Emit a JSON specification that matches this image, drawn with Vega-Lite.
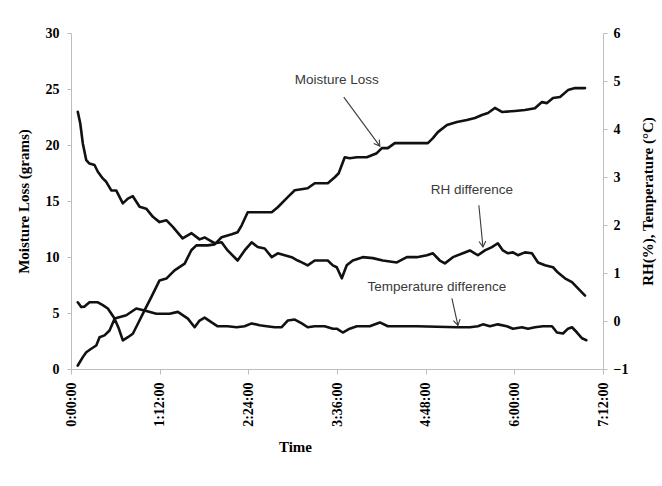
{
  "$schema": "https://vega.github.io/schema/vega-lite/v6.json",
  "width": 532,
  "height": 336,
  "autosize": "none",
  "padding": {"left": 71, "top": 33, "right": 59, "bottom": 117},
  "background": "white",
  "config": {
    "view": {"stroke": null},
    "axis": {
      "grid": false,
      "domainColor": "#bdbdbd",
      "tickColor": "#bdbdbd",
      "domainWidth": 1,
      "tickSize": 4,
      "labelFont": "Liberation Serif",
      "labelFontWeight": "bold",
      "labelFontSize": 14,
      "labelColor": "#000000",
      "titleFont": "Liberation Serif",
      "titleFontWeight": "bold",
      "titleFontSize": 15,
      "titleColor": "#000000"
    }
  },
  "datasets": {
    "lines": [
      {"series": "Moisture Loss", "minutes": 5.5, "value": 0.31},
      {"series": "Moisture Loss", "minutes": 9.6, "value": 1.06},
      {"series": "Moisture Loss", "minutes": 12.4, "value": 1.5},
      {"series": "Moisture Loss", "minutes": 16.4, "value": 1.81},
      {"series": "Moisture Loss", "minutes": 20.5, "value": 2.1},
      {"series": "Moisture Loss", "minutes": 23.2, "value": 2.84},
      {"series": "Moisture Loss", "minutes": 27.2, "value": 3.0},
      {"series": "Moisture Loss", "minutes": 31.3, "value": 3.44},
      {"series": "Moisture Loss", "minutes": 35.4, "value": 4.49},
      {"series": "Moisture Loss", "minutes": 38.9, "value": 3.59},
      {"series": "Moisture Loss", "minutes": 42.1, "value": 2.55},
      {"series": "Moisture Loss", "minutes": 46.2, "value": 2.84},
      {"series": "Moisture Loss", "minutes": 50.2, "value": 3.15},
      {"series": "Moisture Loss", "minutes": 54.3, "value": 4.04},
      {"series": "Moisture Loss", "minutes": 59.7, "value": 5.23},
      {"series": "Moisture Loss", "minutes": 65.2, "value": 6.42},
      {"series": "Moisture Loss", "minutes": 71.9, "value": 7.91},
      {"series": "Moisture Loss", "minutes": 77.4, "value": 8.07},
      {"series": "Moisture Loss", "minutes": 84.1, "value": 8.81},
      {"series": "Moisture Loss", "minutes": 92.3, "value": 9.41},
      {"series": "Moisture Loss", "minutes": 97.7, "value": 10.6},
      {"series": "Moisture Loss", "minutes": 101.8, "value": 11.04},
      {"series": "Moisture Loss", "minutes": 110.9, "value": 11.04},
      {"series": "Moisture Loss", "minutes": 116.6, "value": 11.13},
      {"series": "Moisture Loss", "minutes": 122.3, "value": 11.76},
      {"series": "Moisture Loss", "minutes": 130.5, "value": 12.03},
      {"series": "Moisture Loss", "minutes": 135.3, "value": 12.21},
      {"series": "Moisture Loss", "minutes": 138.6, "value": 12.83},
      {"series": "Moisture Loss", "minutes": 143.5, "value": 13.99},
      {"series": "Moisture Loss", "minutes": 163.0, "value": 13.99},
      {"series": "Moisture Loss", "minutes": 167.9, "value": 14.44},
      {"series": "Moisture Loss", "minutes": 176.0, "value": 15.34},
      {"series": "Moisture Loss", "minutes": 181.7, "value": 15.96},
      {"series": "Moisture Loss", "minutes": 192.2, "value": 16.14},
      {"series": "Moisture Loss", "minutes": 197.9, "value": 16.59},
      {"series": "Moisture Loss", "minutes": 208.5, "value": 16.59},
      {"series": "Moisture Loss", "minutes": 214.2, "value": 17.12},
      {"series": "Moisture Loss", "minutes": 217.4, "value": 17.48},
      {"series": "Moisture Loss", "minutes": 222.3, "value": 18.91},
      {"series": "Moisture Loss", "minutes": 226.3, "value": 18.82},
      {"series": "Moisture Loss", "minutes": 232.1, "value": 18.91},
      {"series": "Moisture Loss", "minutes": 240.2, "value": 18.91},
      {"series": "Moisture Loss", "minutes": 248.3, "value": 19.27},
      {"series": "Moisture Loss", "minutes": 252.4, "value": 19.72},
      {"series": "Moisture Loss", "minutes": 257.3, "value": 19.72},
      {"series": "Moisture Loss", "minutes": 262.9, "value": 20.17},
      {"series": "Moisture Loss", "minutes": 272.7, "value": 20.17},
      {"series": "Moisture Loss", "minutes": 289.8, "value": 20.17},
      {"series": "Moisture Loss", "minutes": 293.9, "value": 20.61},
      {"series": "Moisture Loss", "minutes": 297.9, "value": 21.15},
      {"series": "Moisture Loss", "minutes": 305.3, "value": 21.78},
      {"series": "Moisture Loss", "minutes": 313.4, "value": 22.05},
      {"series": "Moisture Loss", "minutes": 321.5, "value": 22.23},
      {"series": "Moisture Loss", "minutes": 328.0, "value": 22.41},
      {"series": "Moisture Loss", "minutes": 333.7, "value": 22.68},
      {"series": "Moisture Loss", "minutes": 338.6, "value": 22.86},
      {"series": "Moisture Loss", "minutes": 344.2, "value": 23.31},
      {"series": "Moisture Loss", "minutes": 349.9, "value": 22.95},
      {"series": "Moisture Loss", "minutes": 360.5, "value": 23.04},
      {"series": "Moisture Loss", "minutes": 368.6, "value": 23.12},
      {"series": "Moisture Loss", "minutes": 376.7, "value": 23.29},
      {"series": "Moisture Loss", "minutes": 382.4, "value": 23.83},
      {"series": "Moisture Loss", "minutes": 386.5, "value": 23.74},
      {"series": "Moisture Loss", "minutes": 391.4, "value": 24.19},
      {"series": "Moisture Loss", "minutes": 397.1, "value": 24.28},
      {"series": "Moisture Loss", "minutes": 403.6, "value": 24.9},
      {"series": "Moisture Loss", "minutes": 409.3, "value": 25.08},
      {"series": "Moisture Loss", "minutes": 417.4, "value": 25.08},

      {"series": "RH difference", "minutes": 5.5, "value": 4.36},
      {"series": "RH difference", "minutes": 7.5, "value": 4.12},
      {"series": "RH difference", "minutes": 9.6, "value": 3.7},
      {"series": "RH difference", "minutes": 12.4, "value": 3.35},
      {"series": "RH difference", "minutes": 15.0, "value": 3.28},
      {"series": "RH difference", "minutes": 19.1, "value": 3.25},
      {"series": "RH difference", "minutes": 21.8, "value": 3.11},
      {"series": "RH difference", "minutes": 25.8, "value": 2.97},
      {"series": "RH difference", "minutes": 28.6, "value": 2.9},
      {"series": "RH difference", "minutes": 32.7, "value": 2.72},
      {"series": "RH difference", "minutes": 36.7, "value": 2.72},
      {"series": "RH difference", "minutes": 42.1, "value": 2.45},
      {"series": "RH difference", "minutes": 46.2, "value": 2.55},
      {"series": "RH difference", "minutes": 50.2, "value": 2.6},
      {"series": "RH difference", "minutes": 55.7, "value": 2.38},
      {"series": "RH difference", "minutes": 61.1, "value": 2.34},
      {"series": "RH difference", "minutes": 66.5, "value": 2.17},
      {"series": "RH difference", "minutes": 71.9, "value": 2.06},
      {"series": "RH difference", "minutes": 77.4, "value": 2.1},
      {"series": "RH difference", "minutes": 82.7, "value": 1.96},
      {"series": "RH difference", "minutes": 90.6, "value": 1.72},
      {"series": "RH difference", "minutes": 97.9, "value": 1.83},
      {"series": "RH difference", "minutes": 104.4, "value": 1.7},
      {"series": "RH difference", "minutes": 108.5, "value": 1.74},
      {"series": "RH difference", "minutes": 112.6, "value": 1.68},
      {"series": "RH difference", "minutes": 116.6, "value": 1.62},
      {"series": "RH difference", "minutes": 122.3, "value": 1.64},
      {"series": "RH difference", "minutes": 127.2, "value": 1.47},
      {"series": "RH difference", "minutes": 135.3, "value": 1.26},
      {"series": "RH difference", "minutes": 141.0, "value": 1.47},
      {"series": "RH difference", "minutes": 146.7, "value": 1.64},
      {"series": "RH difference", "minutes": 151.6, "value": 1.54},
      {"series": "RH difference", "minutes": 157.3, "value": 1.51},
      {"series": "RH difference", "minutes": 163.0, "value": 1.33},
      {"series": "RH difference", "minutes": 167.9, "value": 1.41},
      {"series": "RH difference", "minutes": 173.5, "value": 1.37},
      {"series": "RH difference", "minutes": 179.2, "value": 1.33},
      {"series": "RH difference", "minutes": 184.1, "value": 1.26},
      {"series": "RH difference", "minutes": 187.4, "value": 1.22},
      {"series": "RH difference", "minutes": 192.2, "value": 1.16},
      {"series": "RH difference", "minutes": 197.9, "value": 1.26},
      {"series": "RH difference", "minutes": 208.5, "value": 1.26},
      {"series": "RH difference", "minutes": 212.6, "value": 1.16},
      {"series": "RH difference", "minutes": 215.8, "value": 1.12},
      {"series": "RH difference", "minutes": 219.9, "value": 0.89},
      {"series": "RH difference", "minutes": 223.9, "value": 1.16},
      {"series": "RH difference", "minutes": 228.8, "value": 1.26},
      {"series": "RH difference", "minutes": 236.9, "value": 1.33},
      {"series": "RH difference", "minutes": 245.1, "value": 1.31},
      {"series": "RH difference", "minutes": 253.2, "value": 1.26},
      {"series": "RH difference", "minutes": 264.6, "value": 1.22},
      {"series": "RH difference", "minutes": 272.7, "value": 1.33},
      {"series": "RH difference", "minutes": 280.8, "value": 1.33},
      {"series": "RH difference", "minutes": 289.0, "value": 1.37},
      {"series": "RH difference", "minutes": 293.9, "value": 1.41},
      {"series": "RH difference", "minutes": 299.5, "value": 1.26},
      {"series": "RH difference", "minutes": 303.6, "value": 1.2},
      {"series": "RH difference", "minutes": 310.1, "value": 1.33},
      {"series": "RH difference", "minutes": 318.2, "value": 1.41},
      {"series": "RH difference", "minutes": 323.9, "value": 1.47},
      {"series": "RH difference", "minutes": 330.4, "value": 1.37},
      {"series": "RH difference", "minutes": 336.1, "value": 1.47},
      {"series": "RH difference", "minutes": 341.8, "value": 1.54},
      {"series": "RH difference", "minutes": 346.6, "value": 1.62},
      {"series": "RH difference", "minutes": 350.7, "value": 1.47},
      {"series": "RH difference", "minutes": 354.8, "value": 1.41},
      {"series": "RH difference", "minutes": 358.9, "value": 1.43},
      {"series": "RH difference", "minutes": 362.9, "value": 1.37},
      {"series": "RH difference", "minutes": 368.6, "value": 1.43},
      {"series": "RH difference", "minutes": 374.3, "value": 1.41},
      {"series": "RH difference", "minutes": 379.2, "value": 1.22},
      {"series": "RH difference", "minutes": 384.9, "value": 1.16},
      {"series": "RH difference", "minutes": 391.4, "value": 1.12},
      {"series": "RH difference", "minutes": 395.4, "value": 1.01},
      {"series": "RH difference", "minutes": 401.1, "value": 0.89},
      {"series": "RH difference", "minutes": 406.8, "value": 0.81},
      {"series": "RH difference", "minutes": 411.7, "value": 0.68},
      {"series": "RH difference", "minutes": 417.4, "value": 0.53},

      {"series": "Temperature difference", "minutes": 5.5, "value": 0.39},
      {"series": "Temperature difference", "minutes": 8.3, "value": 0.29},
      {"series": "Temperature difference", "minutes": 11.0, "value": 0.3},
      {"series": "Temperature difference", "minutes": 15.0, "value": 0.39},
      {"series": "Temperature difference", "minutes": 21.8, "value": 0.39},
      {"series": "Temperature difference", "minutes": 25.8, "value": 0.33},
      {"series": "Temperature difference", "minutes": 29.9, "value": 0.26},
      {"series": "Temperature difference", "minutes": 35.4, "value": 0.05},
      {"series": "Temperature difference", "minutes": 44.9, "value": 0.12},
      {"series": "Temperature difference", "minutes": 53.0, "value": 0.26},
      {"series": "Temperature difference", "minutes": 59.7, "value": 0.22},
      {"series": "Temperature difference", "minutes": 69.3, "value": 0.15},
      {"series": "Temperature difference", "minutes": 74.6, "value": 0.15},
      {"series": "Temperature difference", "minutes": 80.1, "value": 0.15},
      {"series": "Temperature difference", "minutes": 86.8, "value": 0.19},
      {"series": "Temperature difference", "minutes": 94.9, "value": 0.05},
      {"series": "Temperature difference", "minutes": 100.4, "value": -0.13},
      {"series": "Temperature difference", "minutes": 104.4, "value": 0.01},
      {"series": "Temperature difference", "minutes": 108.5, "value": 0.07},
      {"series": "Temperature difference", "minutes": 114.2, "value": -0.03},
      {"series": "Temperature difference", "minutes": 119.1, "value": -0.11},
      {"series": "Temperature difference", "minutes": 127.2, "value": -0.11},
      {"series": "Temperature difference", "minutes": 134.5, "value": -0.13},
      {"series": "Temperature difference", "minutes": 141.0, "value": -0.11},
      {"series": "Temperature difference", "minutes": 146.7, "value": -0.05},
      {"series": "Temperature difference", "minutes": 153.2, "value": -0.09},
      {"series": "Temperature difference", "minutes": 158.9, "value": -0.11},
      {"series": "Temperature difference", "minutes": 165.4, "value": -0.13},
      {"series": "Temperature difference", "minutes": 171.1, "value": -0.13},
      {"series": "Temperature difference", "minutes": 176.0, "value": 0.01},
      {"series": "Temperature difference", "minutes": 181.7, "value": 0.03},
      {"series": "Temperature difference", "minutes": 187.4, "value": -0.05},
      {"series": "Temperature difference", "minutes": 192.2, "value": -0.13},
      {"series": "Temperature difference", "minutes": 197.9, "value": -0.11},
      {"series": "Temperature difference", "minutes": 206.0, "value": -0.11},
      {"series": "Temperature difference", "minutes": 212.6, "value": -0.16},
      {"series": "Temperature difference", "minutes": 215.8, "value": -0.16},
      {"series": "Temperature difference", "minutes": 220.7, "value": -0.24},
      {"series": "Temperature difference", "minutes": 226.3, "value": -0.16},
      {"series": "Temperature difference", "minutes": 232.1, "value": -0.11},
      {"series": "Temperature difference", "minutes": 242.6, "value": -0.11},
      {"series": "Temperature difference", "minutes": 250.8, "value": -0.03},
      {"series": "Temperature difference", "minutes": 257.3, "value": -0.11},
      {"series": "Temperature difference", "minutes": 280.8, "value": -0.11},
      {"series": "Temperature difference", "minutes": 313.4, "value": -0.13},
      {"series": "Temperature difference", "minutes": 323.9, "value": -0.13},
      {"series": "Temperature difference", "minutes": 330.4, "value": -0.11},
      {"series": "Temperature difference", "minutes": 334.5, "value": -0.07},
      {"series": "Temperature difference", "minutes": 340.2, "value": -0.11},
      {"series": "Temperature difference", "minutes": 346.6, "value": -0.07},
      {"series": "Temperature difference", "minutes": 353.9, "value": -0.11},
      {"series": "Temperature difference", "minutes": 358.9, "value": -0.16},
      {"series": "Temperature difference", "minutes": 366.2, "value": -0.13},
      {"series": "Temperature difference", "minutes": 371.1, "value": -0.16},
      {"series": "Temperature difference", "minutes": 376.7, "value": -0.13},
      {"series": "Temperature difference", "minutes": 383.2, "value": -0.11},
      {"series": "Temperature difference", "minutes": 390.6, "value": -0.11},
      {"series": "Temperature difference", "minutes": 394.6, "value": -0.24},
      {"series": "Temperature difference", "minutes": 399.5, "value": -0.26},
      {"series": "Temperature difference", "minutes": 403.6, "value": -0.16},
      {"series": "Temperature difference", "minutes": 406.8, "value": -0.13},
      {"series": "Temperature difference", "minutes": 410.9, "value": -0.24},
      {"series": "Temperature difference", "minutes": 415.0, "value": -0.36},
      {"series": "Temperature difference", "minutes": 418.5, "value": -0.4}
    ],
    "notes": [
      {"label": "Moisture Loss", "minutes": 215.8, "value": 25.8, "minutes2": 221.5, "value2": 24.28, "tipMinutes": 250.8, "tipValue": 19.9},
      {"label": "RH difference", "minutes": 325.5, "value": 15.96, "minutes2": 331.2, "value2": 14.62, "tipMinutes": 334.5, "tipValue": 10.9},
      {"label": "Temperature difference", "minutes": 297.1, "value": 7.29, "minutes2": 309.3, "value2": 6.3, "tipMinutes": 314.2, "tipValue": 3.89}
    ]
  },
  "encoding": {
    "x": {
      "field": "minutes",
      "type": "quantitative",
      "scale": {"domain": [0, 432], "nice": false, "zero": false},
      "axis": {
        "title": "Time",
        "values": [0, 72, 144, 216, 288, 360, 432],
        "labelExpr": "floor(datum.value / 60) + ':' + (datum.value % 60 < 10 ? '0' : '') + (datum.value % 60) + ':00'",
        "labelAngle": 270,
        "labelPadding": 8,
        "tickSize": 5,
        "titleX": 224,
        "titleY": 77,
        "titleBaseline": "middle",
        "titleAlign": "center"
      }
    }
  },
  "layer": [
    {
      "encoding": {
        "y": {
          "field": "value",
          "type": "quantitative",
          "scale": {"domain": [0, 30], "nice": false},
          "axis": {
            "orient": "left",
            "title": "Moisture Loss (grams)",
            "values": [0, 5, 10, 15, 20, 25, 30],
            "labelPadding": 8,
            "titleAngle": 270,
            "titleX": -48,
            "titleY": 168,
            "titleBaseline": "middle",
            "titleAlign": "center"
          }
        }
      },
      "layer": [
        {
          "data": {"name": "lines"},
          "transform": [{"filter": "datum.series === 'Moisture Loss'"}],
          "mark": {"type": "line", "color": "#111111", "strokeWidth": 2.6, "strokeJoin": "round", "strokeCap": "round"}
        },
        {
          "data": {"name": "notes"},
          "mark": {"type": "text", "font": "Liberation Sans", "fontSize": 13.5, "color": "#3a3a3a", "align": "center", "baseline": "middle"},
          "encoding": {"text": {"field": "label"}}
        },
        {
          "data": {"name": "notes"},
          "mark": {"type": "rule", "color": "#3a3a3a", "strokeWidth": 1.1},
          "encoding": {
            "x": {"field": "minutes2", "type": "quantitative"},
            "y": {"field": "value2", "type": "quantitative"},
            "x2": {"field": "tipMinutes"},
            "y2": {"field": "tipValue"}
          }
        },
        {
          "data": {"name": "notes"},
          "transform": [{"filter": "datum.label === 'Moisture Loss'"}],
          "mark": {"type": "point", "shape": "M-1,-0.6L0,0L-1,0.6", "filled": false, "color": "#3a3a3a", "opacity": 1, "strokeWidth": 1.1, "size": 130, "angle": 54},
          "encoding": {
            "x": {"field": "tipMinutes", "type": "quantitative"},
            "y": {"field": "tipValue", "type": "quantitative"}
          }
        },
        {
          "data": {"name": "notes"},
          "transform": [{"filter": "datum.label === 'RH difference'"}],
          "mark": {"type": "point", "shape": "M-1,-0.6L0,0L-1,0.6", "filled": false, "color": "#3a3a3a", "opacity": 1, "strokeWidth": 1.1, "size": 130, "angle": 85},
          "encoding": {
            "x": {"field": "tipMinutes", "type": "quantitative"},
            "y": {"field": "tipValue", "type": "quantitative"}
          }
        },
        {
          "data": {"name": "notes"},
          "transform": [{"filter": "datum.label === 'Temperature difference'"}],
          "mark": {"type": "point", "shape": "M-1,-0.6L0,0L-1,0.6", "filled": false, "color": "#3a3a3a", "opacity": 1, "strokeWidth": 1.1, "size": 130, "angle": 78},
          "encoding": {
            "x": {"field": "tipMinutes", "type": "quantitative"},
            "y": {"field": "tipValue", "type": "quantitative"}
          }
        }
      ]
    },
    {
      "data": {"name": "lines"},
      "transform": [{"filter": "datum.series !== 'Moisture Loss'"}],
      "mark": {"type": "line", "color": "#111111", "strokeWidth": 2.6, "strokeJoin": "round", "strokeCap": "round"},
      "encoding": {
        "detail": {"field": "series"},
        "y": {
          "field": "value",
          "type": "quantitative",
          "scale": {"domain": [-1, 6], "nice": false, "zero": false},
          "axis": {
            "orient": "right",
            "title": "RH(%), Temperature (°C)",
            "values": [-1, 0, 1, 2, 3, 4, 5, 6],
            "labelPadding": 6,
            "titleAngle": 270,
            "titleX": 44,
            "titleY": 168,
            "titleBaseline": "middle",
            "titleAlign": "center"
          }
        }
      }
    }
  ],
  "resolve": {"scale": {"y": "independent"}}
}
